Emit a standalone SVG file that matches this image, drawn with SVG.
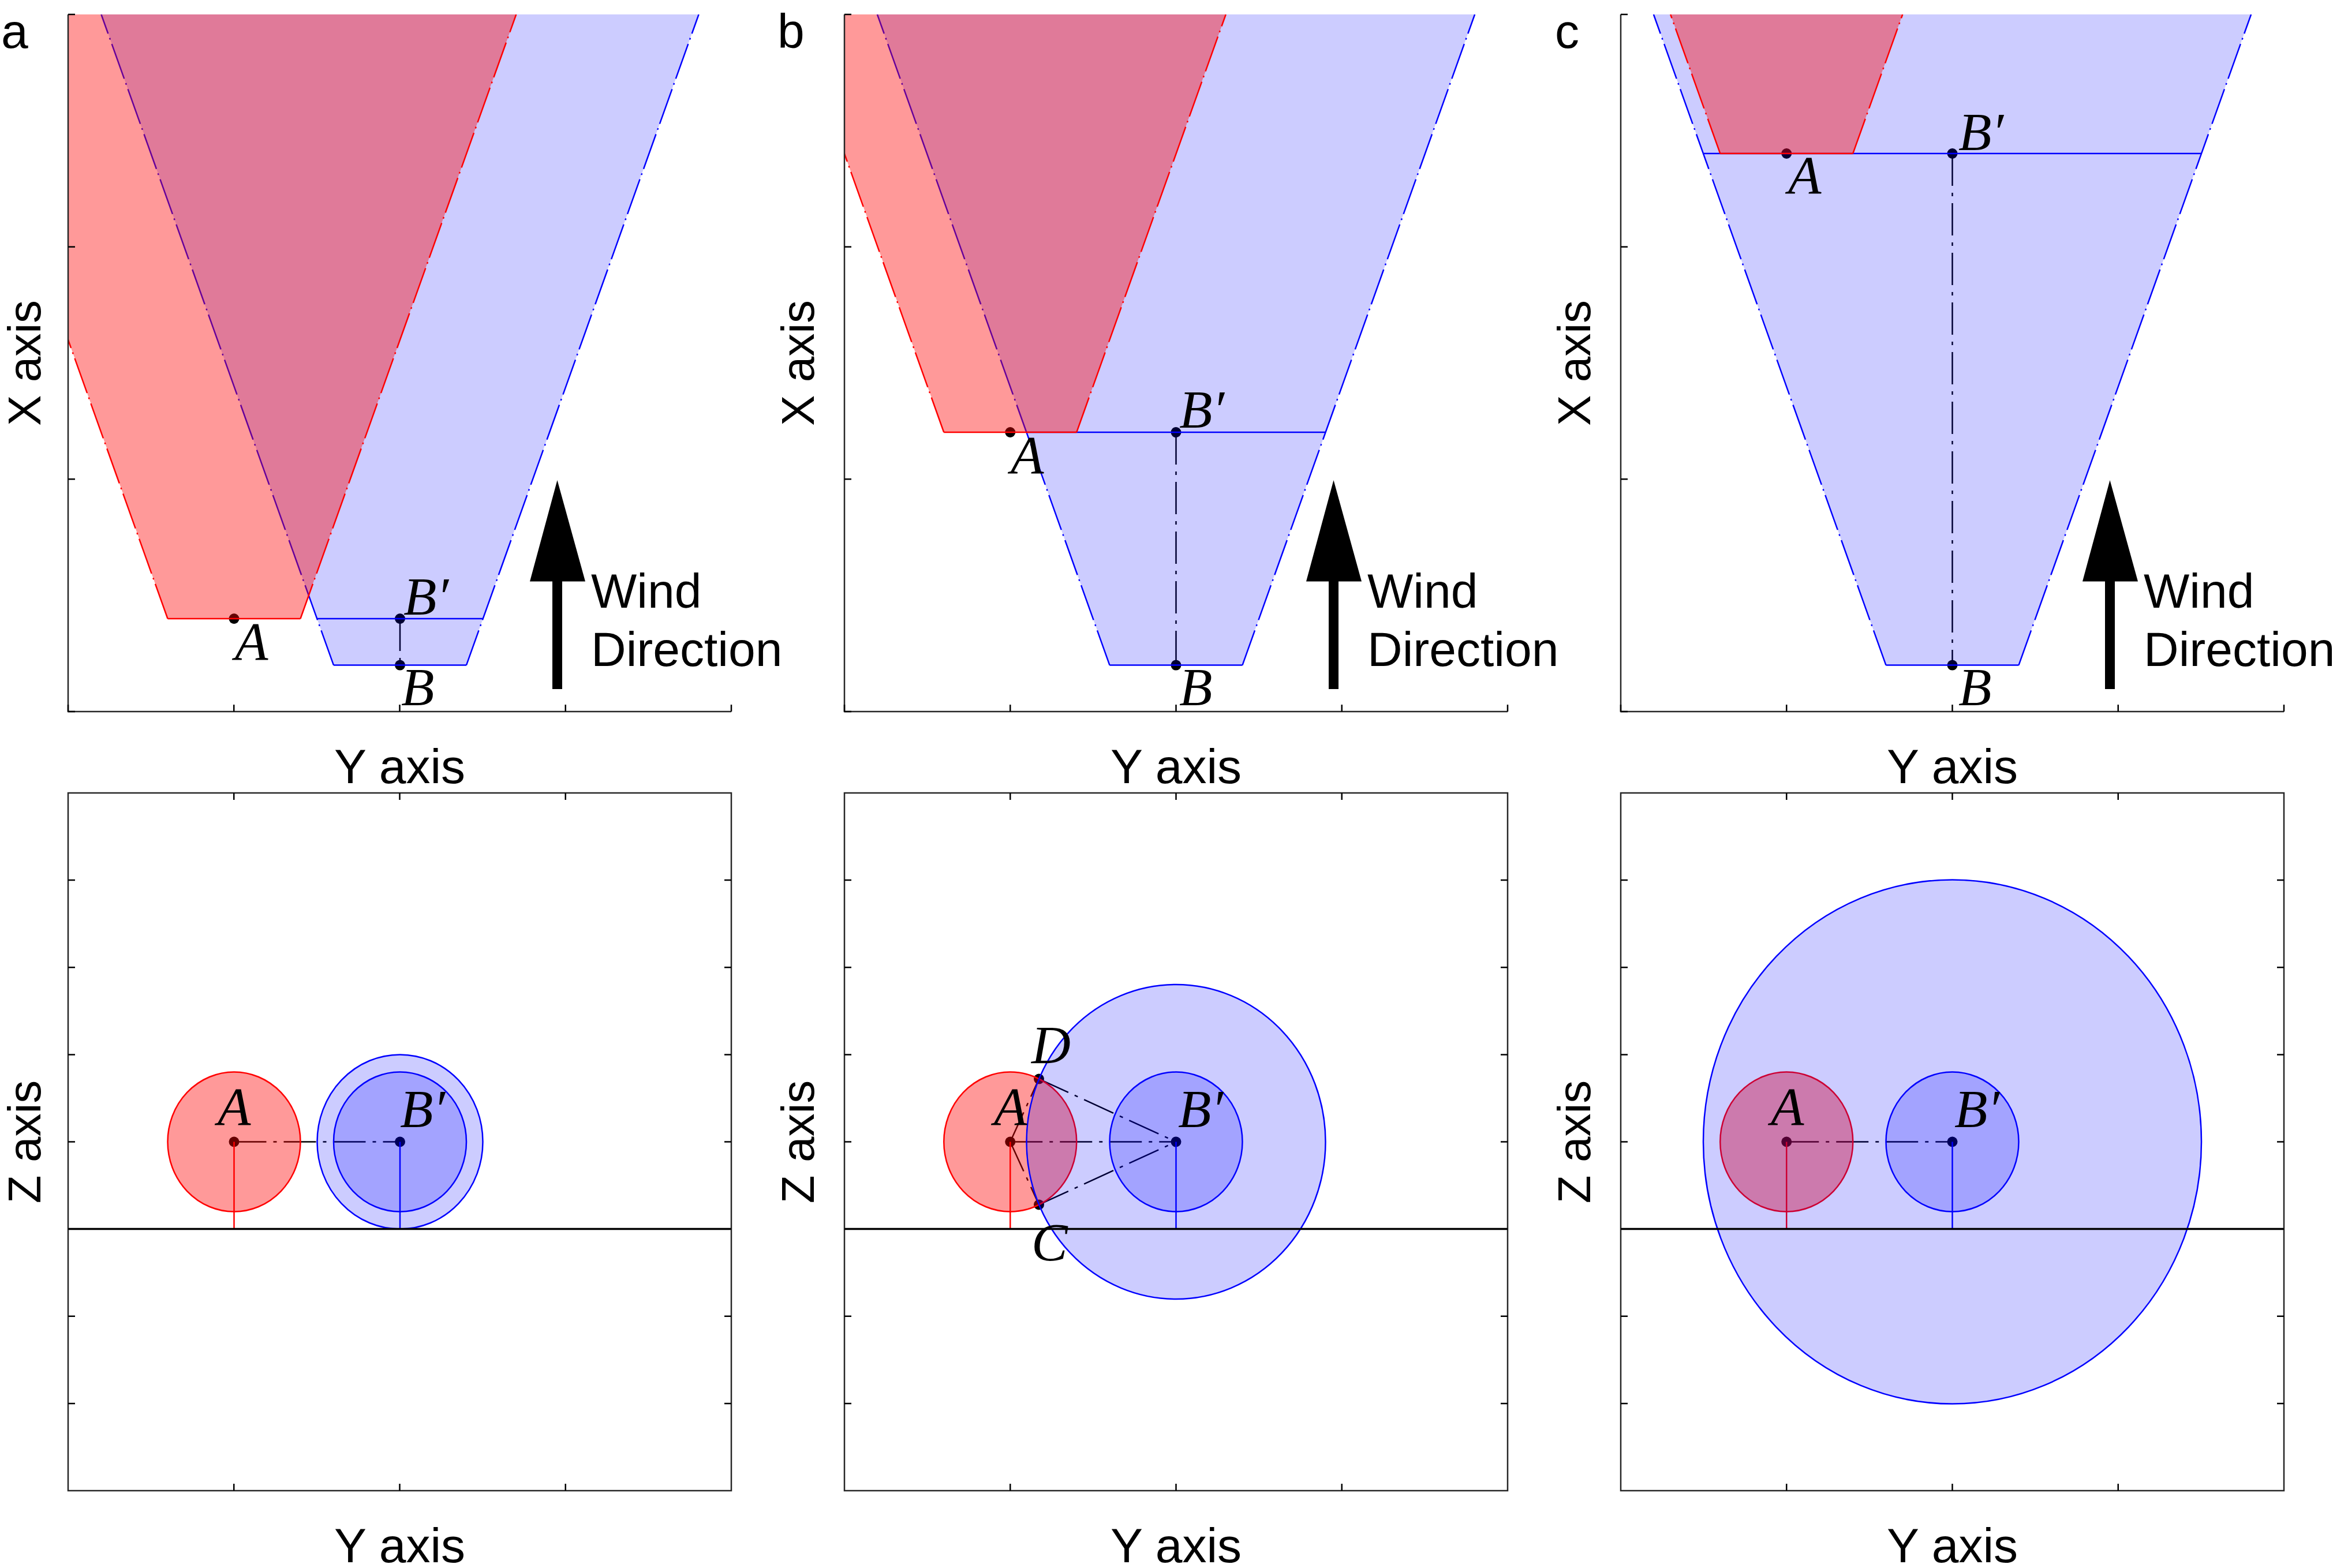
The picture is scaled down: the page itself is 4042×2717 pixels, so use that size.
<svg xmlns="http://www.w3.org/2000/svg" width="4042" height="2717" viewBox="0 0 4042 2717">
<style>
.ax{fill:none;stroke:#262626;stroke-width:2.5}
.tk{fill:none;stroke:#000;stroke-width:2.5}
.rf{fill:#ff0000;fill-opacity:.4;stroke:none}
.bf{fill:#0000ff;fill-opacity:.2;stroke:none}
.rs{fill:none;stroke:#ff0000;stroke-width:2.5}
.bs{fill:none;stroke:#0000ff;stroke-width:2.5}
.dd{stroke-dasharray:64 8 3 8}
.kd{fill:none;stroke:#000;stroke-width:2.5;stroke-dasharray:56 12 6 12}
.gl{fill:none;stroke:#000;stroke-width:3.5}
.dot{fill:#000}
.lab{font-family:"Liberation Sans",Arial,Helvetica,sans-serif;font-size:84px;fill:#000}
.rot{font-family:"Liberation Sans",Arial,Helvetica,sans-serif;font-size:80px;fill:#000}
.it{font-family:"Liberation Serif","Times New Roman",serif;font-style:italic;font-size:94px;fill:#000}
.arr{fill:#000}
</style>
<defs>
<clipPath id="ca"><rect x="118" y="25" width="1149" height="1208"/></clipPath>
<clipPath id="cb"><rect x="1463" y="25" width="1149" height="1208"/></clipPath>
<clipPath id="cc"><rect x="2808" y="25" width="1149" height="1208"/></clipPath>
</defs>

<!-- ===== Panel a top ===== -->
<g id="panel-a-top">
<g clip-path="url(#ca)">
<path class="kd" d="M693 1072 L693 1152.6"/>
<circle class="dot" cx="405.5" cy="1072" r="9"/>
<circle class="dot" cx="693" cy="1072" r="9"/>
<circle class="dot" cx="693" cy="1152.6" r="9"/>
<polygon class="bf" points="578,1152.6 808,1152.6 1210.6,25 175.4,25"/>
<path class="bs dd" d="M578 1152.6 L175.4 25 M808 1152.6 L1210.6 25"/>
<path class="bs" d="M578 1152.6 L808 1152.6 M549.2 1072 L836.8 1072"/>
<polygon class="rf" points="290.5,1072 520.5,1072 894.3,25 -83.3,25"/>
<path class="rs dd" d="M290.5 1072 L-83.3 25 M520.5 1072 L894.3 25"/>
<path class="rs" d="M290.5 1072 L520.5 1072"/>
</g>
<path class="ax" d="M118 25 L118 1233 L1267 1233"/>
<path class="tk" d="M118 25 H130 M118 427.7 H130 M118 830.3 H130 M118 1233 H130 M118 1233 V1221 M405.25 1233 V1221 M692.5 1233 V1221 M979.75 1233 V1221 M1267 1233 V1221"/>
<text class="it" x="407" y="1143">A</text>
<text class="it" x="699" y="1065">B′</text>
<text class="it" x="695" y="1222">B</text>
<rect class="arr" x="957" y="1000" width="17" height="194"/>
<polygon class="arr" points="918,1007.5 1014,1007.5 965.5,832"/>
<text class="lab" x="1024" y="1053">Wind</text>
<text class="lab" x="1024" y="1154">Direction</text>
<text class="lab" x="2" y="83">a</text>
<text class="rot" transform="translate(70 629) rotate(-90)" text-anchor="middle">X axis</text>
<text class="lab" x="692.5" y="1357" text-anchor="middle">Y axis</text>
</g>

<!-- ===== Panel b top ===== -->
<g id="panel-b-top">
<g clip-path="url(#cb)">
<path class="kd" d="M2037.5 749 L2037.5 1152.6"/>
<circle class="dot" cx="1750.25" cy="749" r="9"/>
<circle class="dot" cx="2037.5" cy="749" r="9"/>
<circle class="dot" cx="2037.5" cy="1152.6" r="9"/>
<polygon class="bf" points="1922.5,1152.6 2152.5,1152.6 2555.1,25 1519.9,25"/>
<path class="bs dd" d="M1922.5 1152.6 L1519.9 25 M2152.5 1152.6 L2555.1 25"/>
<path class="bs" d="M1922.5 1152.6 L2152.5 1152.6 M1778.4 749 L2296.6 749"/>
<polygon class="rf" points="1635.25,749 1865.25,749 2123.8,25 1376.8,25"/>
<path class="rs dd" d="M1635.25 749 L1376.8 25 M1865.25 749 L2123.8 25"/>
<path class="rs" d="M1635.25 749 L1865.25 749"/>
</g>
<path class="ax" d="M1463 25 L1463 1233 L2612 1233"/>
<path class="tk" d="M1463 25 H1475 M1463 427.7 H1475 M1463 830.3 H1475 M1463 1233 H1475 M1463 1233 V1221 M1750.25 1233 V1221 M2037.5 1233 V1221 M2324.75 1233 V1221 M2612 1233 V1221"/>
<text class="it" x="1751" y="820">A</text>
<text class="it" x="2043" y="741">B′</text>
<text class="it" x="2043" y="1222">B</text>
<rect class="arr" x="2302" y="1000" width="17" height="194"/>
<polygon class="arr" points="2263,1007.5 2359,1007.5 2310.5,832"/>
<text class="lab" x="2369" y="1053">Wind</text>
<text class="lab" x="2369" y="1154">Direction</text>
<text class="lab" x="1347" y="83">b</text>
<text class="rot" transform="translate(1410 629) rotate(-90)" text-anchor="middle">X axis</text>
<text class="lab" x="2037.5" y="1357" text-anchor="middle">Y axis</text>
</g>

<!-- ===== Panel c top ===== -->
<g id="panel-c-top">
<g clip-path="url(#cc)">
<path class="kd" d="M3382.5 266 L3382.5 1152.6"/>
<circle class="dot" cx="3095.25" cy="266" r="9"/>
<circle class="dot" cx="3382.5" cy="266" r="9"/>
<circle class="dot" cx="3382.5" cy="1152.6" r="9"/>
<polygon class="bf" points="3267.5,1152.6 3497.5,1152.6 3900.1,25 2864.9,25"/>
<path class="bs dd" d="M3267.5 1152.6 L2864.9 25 M3497.5 1152.6 L3900.1 25"/>
<path class="bs" d="M3267.5 1152.6 L3497.5 1152.6 M2951 266 L3814 266"/>
<polygon class="rf" points="2980.25,266 3210.25,266 3296.3,25 2894.2,25"/>
<path class="rs dd" d="M2980.25 266 L2894.2 25 M3210.25 266 L3296.3 25"/>
<path class="rs" d="M2980.25 266 L3210.25 266"/>
</g>
<path class="ax" d="M2808 25 L2808 1233 L3957 1233"/>
<path class="tk" d="M2808 25 H2820 M2808 427.7 H2820 M2808 830.3 H2820 M2808 1233 H2820 M2808 1233 V1221 M3095.25 1233 V1221 M3382.5 1233 V1221 M3669.75 1233 V1221 M3957 1233 V1221"/>
<text class="it" x="3098" y="335">A</text>
<text class="it" x="3393" y="260">B′</text>
<text class="it" x="3393" y="1222">B</text>
<rect class="arr" x="3647" y="1000" width="17" height="194"/>
<polygon class="arr" points="3608,1007.5 3704,1007.5 3655.5,832"/>
<text class="lab" x="3714" y="1053">Wind</text>
<text class="lab" x="3714" y="1154">Direction</text>
<text class="lab" x="2694" y="83">c</text>
<text class="rot" transform="translate(2755 629) rotate(-90)" text-anchor="middle">X axis</text>
<text class="lab" x="3382.5" y="1357" text-anchor="middle">Y axis</text>
</g>

<!-- ===== Panel a bottom ===== -->
<g id="panel-a-bottom">
<path class="kd" d="M405.5 1978.5 L693 1978.5"/>
<circle class="dot" cx="405.5" cy="1978.5" r="9"/>
<circle class="dot" cx="693" cy="1978.5" r="9"/>
<ellipse class="rf" cx="405.5" cy="1978.5" rx="115" ry="121"/>
<ellipse class="rs" cx="405.5" cy="1978.5" rx="115" ry="121"/>
<ellipse class="bf" cx="693" cy="1978.5" rx="143.5" ry="151.1"/>
<ellipse class="bs" cx="693" cy="1978.5" rx="143.5" ry="151.1"/>
<ellipse class="bf" cx="693" cy="1978.5" rx="115" ry="121"/>
<ellipse class="bs" cx="693" cy="1978.5" rx="115" ry="121"/>
<path class="rs" d="M405.5 1978.5 V2129.6"/>
<path class="bs" d="M693 1978.5 V2129.6"/>
<path class="gl" d="M118 2129.6 H1267"/>
<rect class="ax" x="118" y="1374" width="1149" height="1209"/>
<path class="tk" d="M118 1525.1 H130 M118 1676.3 H130 M118 1827.4 H130 M118 1978.5 H130 M118 2129.6 H130 M118 2280.8 H130 M118 2431.9 H130 M1267 1525.1 H1255 M1267 1676.3 H1255 M1267 1827.4 H1255 M1267 1978.5 H1255 M1267 2129.6 H1255 M1267 2280.8 H1255 M1267 2431.9 H1255 M405.25 1374 V1386 M692.5 1374 V1386 M979.75 1374 V1386 M405.25 2583 V2571 M692.5 2583 V2571 M979.75 2583 V2571"/>
<text class="it" x="377" y="1949">A</text>
<text class="it" x="693" y="1953">B′</text>
<text class="rot" transform="translate(70 1978.5) rotate(-90)" text-anchor="middle">Z axis</text>
<text class="lab" x="692.5" y="2707" text-anchor="middle">Y axis</text>
</g>

<!-- ===== Panel b bottom ===== -->
<g id="panel-b-bottom">
<path class="kd" d="M1750.25 1978.5 L2037.5 1978.5 M1750.25 1978.5 L1800 1869.6 M1750.25 1978.5 L1800 2087.4 M1800 1869.6 L2037.5 1978.5 M1800 2087.4 L2037.5 1978.5"/>
<circle class="dot" cx="1750.25" cy="1978.5" r="9"/>
<circle class="dot" cx="2037.5" cy="1978.5" r="9"/>
<circle class="dot" cx="1800" cy="1869.6" r="9"/>
<circle class="dot" cx="1800" cy="2087.4" r="9"/>
<ellipse class="rf" cx="1750.25" cy="1978.5" rx="115" ry="121"/>
<ellipse class="rs" cx="1750.25" cy="1978.5" rx="115" ry="121"/>
<path class="rs" d="M1750.25 1978.5 V2129.6"/>
<ellipse class="bf" cx="2037.5" cy="1978.5" rx="259" ry="272.5"/>
<ellipse class="bs" cx="2037.5" cy="1978.5" rx="259" ry="272.5"/>
<ellipse class="bf" cx="2037.5" cy="1978.5" rx="115" ry="121"/>
<ellipse class="bs" cx="2037.5" cy="1978.5" rx="115" ry="121"/>
<path class="bs" d="M2037.5 1978.5 V2129.6"/>
<path class="gl" d="M1463 2129.6 H2612"/>
<rect class="ax" x="1463" y="1374" width="1149" height="1209"/>
<path class="tk" d="M1463 1525.1 H1475 M1463 1676.3 H1475 M1463 1827.4 H1475 M1463 1978.5 H1475 M1463 2129.6 H1475 M1463 2280.8 H1475 M1463 2431.9 H1475 M2612 1525.1 H2600 M2612 1676.3 H2600 M2612 1827.4 H2600 M2612 1978.5 H2600 M2612 2129.6 H2600 M2612 2280.8 H2600 M2612 2431.9 H2600 M1750.25 1374 V1386 M2037.5 1374 V1386 M2324.75 1374 V1386 M1750.25 2583 V2571 M2037.5 2583 V2571 M2324.75 2583 V2571"/>
<text class="it" x="1722" y="1949">A</text>
<text class="it" x="2041" y="1953">B′</text>
<text class="it" x="1787" y="1842">D</text>
<text class="it" x="1787" y="2184">C</text>
<text class="rot" transform="translate(1410 1978.5) rotate(-90)" text-anchor="middle">Z axis</text>
<text class="lab" x="2037.5" y="2707" text-anchor="middle">Y axis</text>
</g>

<!-- ===== Panel c bottom ===== -->
<g id="panel-c-bottom">
<path class="kd" d="M3095.25 1978.5 L3382.5 1978.5"/>
<circle class="dot" cx="3095.25" cy="1978.5" r="9"/>
<circle class="dot" cx="3382.5" cy="1978.5" r="9"/>
<ellipse class="rf" cx="3095.25" cy="1978.5" rx="115" ry="121"/>
<ellipse class="rs" cx="3095.25" cy="1978.5" rx="115" ry="121"/>
<path class="rs" d="M3095.25 1978.5 V2129.6"/>
<ellipse class="bf" cx="3382.5" cy="1978.5" rx="431.5" ry="454"/>
<ellipse class="bs" cx="3382.5" cy="1978.5" rx="431.5" ry="454"/>
<ellipse class="bf" cx="3382.5" cy="1978.5" rx="115" ry="121"/>
<ellipse class="bs" cx="3382.5" cy="1978.5" rx="115" ry="121"/>
<path class="bs" d="M3382.5 1978.5 V2129.6"/>
<path class="gl" d="M2808 2129.6 H3957"/>
<rect class="ax" x="2808" y="1374" width="1149" height="1209"/>
<path class="tk" d="M2808 1525.1 H2820 M2808 1676.3 H2820 M2808 1827.4 H2820 M2808 1978.5 H2820 M2808 2129.6 H2820 M2808 2280.8 H2820 M2808 2431.9 H2820 M3957 1525.1 H3945 M3957 1676.3 H3945 M3957 1827.4 H3945 M3957 1978.5 H3945 M3957 2129.6 H3945 M3957 2280.8 H3945 M3957 2431.9 H3945 M3095.25 1374 V1386 M3382.5 1374 V1386 M3669.75 1374 V1386 M3095.25 2583 V2571 M3382.5 2583 V2571 M3669.75 2583 V2571"/>
<text class="it" x="3068" y="1949">A</text>
<text class="it" x="3386" y="1953">B′</text>
<text class="rot" transform="translate(2755 1978.5) rotate(-90)" text-anchor="middle">Z axis</text>
<text class="lab" x="3382.5" y="2707" text-anchor="middle">Y axis</text>
</g>
</svg>
